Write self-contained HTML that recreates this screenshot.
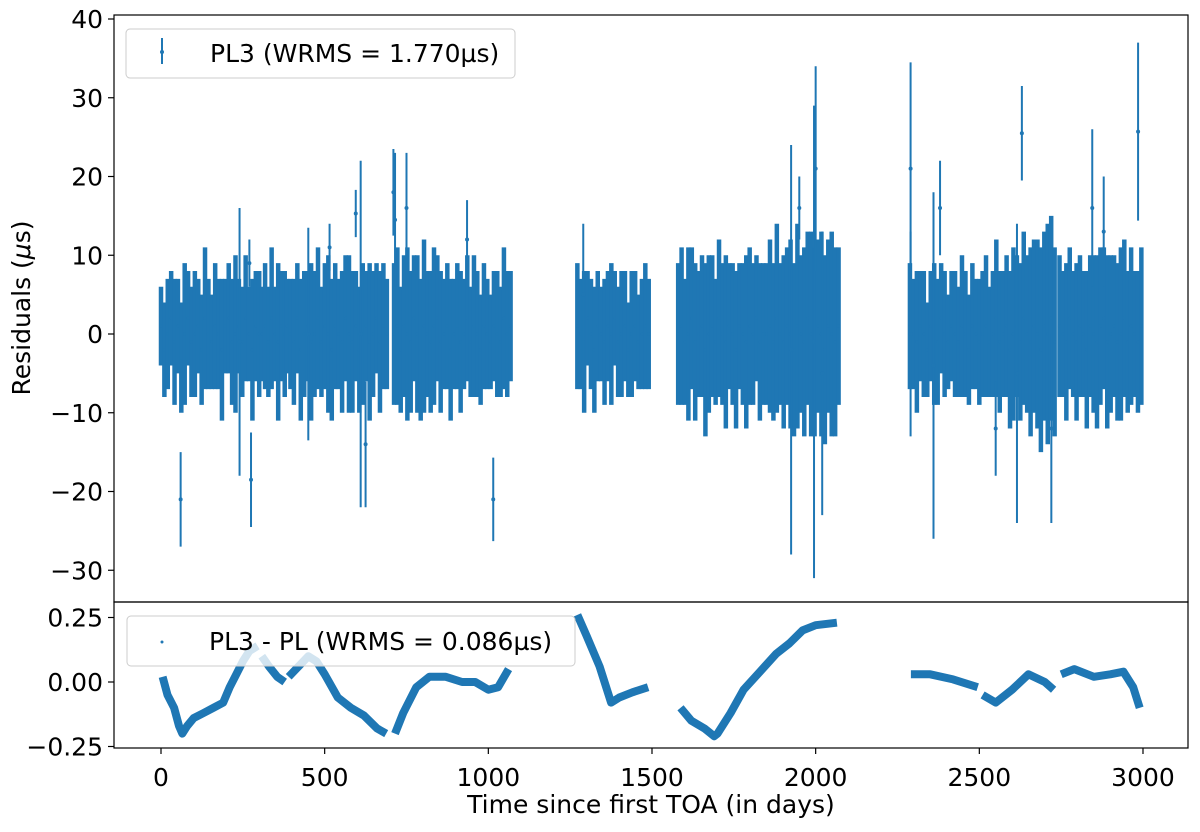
<!DOCTYPE html>
<html><head><meta charset="utf-8"><style>
html,body{margin:0;padding:0;background:#fff;}
svg{display:block;font-family:"DejaVu Sans","Liberation Sans",sans-serif;}
</style></head><body>
<svg id="chart" width="1200" height="832" viewBox="0 0 1200 832" xmlns="http://www.w3.org/2000/svg">
<rect width="1200" height="832" fill="#fff"/>
<g id="topPanel"></g>
<g id="botPanel"></g>
</svg>
<script>
// ---- data ----
const segStart = [0,308,385,712,1272,1580,1850,2288,2510,2745];
const segEnd   = [300,378,690,1068,1490,1840,2070,2500,2730,2995];
const segRes = [
[1,-2,0,2,-1,1,-3,0,2,-1,0,1,-2,2,0,-1,1,0,-2,1,2,-1,0,1,-1,2,0,-2,1,0],
[0,1,-1,2,0,-1,1,0],
[1,0,-1,2,-2,0,1,-1,0,2,-1,1,0,-2,1,0,-1,2,0,-1,1,-2,0,1,-1,0,2,-1,1,0],
[0,1,-2,1,0,-1,2,0,-2,1,0,-1,1,2,-1,0,1,-2,0,1,-1,0,2,-1,1,0,-2,1,0,-1,1,0,-1,2,0,1],
[1,0,-1,2,0,-2,1,0,-1,1,0,2,-1,0,1,-2,0,1,-1,0,1,0],
[0,1,-1,0,2,-1,0,1,-2,0,1,-1,2,0,-1,1,0,-2,1,0,-1,1,0,2,-1,0],
[0,1,-1,2,0,-1,1,0,-2,1,0,-1,2,0,-1,1,0,-2,1,0,-1,1],
[1,0,-1,1,0,-2,1,0,-1,2,0,-1,1,0,-1,1,0,-2,1,0,-1],
[0,1,-1,0,2,-1,0,1,-2,0,1,-1,2,0,-1,1,0,-2,1,0,2,-1],
[1,0,-1,2,0,-1,1,0,-2,1,0,-1,1,2,-1,0,1,-1,0,2,-1,1,0,-1,1]];
const segErr = [
[5,6,7,6,8,6,7,9,6,7,8,6,7,9,7,6,8,7,9,6,7,8,10,6,7,8,6,9,7,8],
[6,8,7,9,6,10,7,8],
[6,7,8,7,9,8,7,10,8,9,7,8,10,9,8,7,9,8,10,9,7,8,9,7,10,8,7,9,8,7],
[9,10,8,9,11,9,8,10,9,11,8,9,10,8,9,7,8,9,7,8,9,7,8,7,9,8,7,8,7,6,7,8,7,9,8,7],
[8,7,9,6,7,8,7,6,8,7,9,6,7,8,7,6,8,7,6,7,8,7],
[9,10,8,11,9,10,8,9,11,10,9,8,10,9,11,8,9,10,8,9,11,10,9,8,10,9],
[9,11,10,12,9,11,10,12,11,13,10,12,11,13,12,11,13,12,11,13,12,10],
[8,7,9,7,8,6,7,9,8,7,8,6,7,8,7,9,8,7,8,7,8],
[8,9,7,8,10,9,8,9,10,11,9,10,11,10,12,11,12,13,12,14,13,12],
[9,8,10,9,8,10,9,8,10,9,10,11,10,9,11,10,9,10,11,10,9,10,8,9,10]];
const outT = [60,240,275,270,450,515,595,610,625,710,715,750,1015,935,1925,1995,2000,2020,1950,2290,2290,2360,2380,2630,2615,2720,2845,2985,1290,2550,2880];
const outR = [-21,-1,-18.5,9,0,11,15.3,0,-14,18,14.5,16,-21,12,-2,-1,21,-5,16,21,0,-4,16,25.5,-5,-12,16,25.7,5,-12,13];
const outE = [6,17,6,3,13.5,3,3,22,8,5.5,8.5,7,5.3,5,26,30,13,18,4,13.5,13,22,6,6,19,12,10,11.3,9,6,7];
const diffT = [
[5,20,40,55,65,80,100,130,160,190,210,230,250,270,295],
[308,330,355,378],
[390,420,450,475,500,540,580,620,660,688],
[715,740,780,820,870,920,960,1000,1030,1062],
[1272,1300,1340,1375,1400,1440,1488],
[1587,1620,1660,1690,1700,1740,1780,1830,1880,1920,1960,2000,2065],
[2291,2350,2420,2495],
[2510,2550,2600,2650,2700,2727],
[2750,2790,2850,2900,2940,2970,2990]];
const diffV = [
[0.02,-0.05,-0.1,-0.17,-0.2,-0.17,-0.14,-0.12,-0.1,-0.08,-0.02,0.03,0.08,0.12,0.14],
[0.1,0.06,0.02,0.0],
[0.02,0.06,0.1,0.08,0.03,-0.06,-0.1,-0.13,-0.18,-0.2],
[-0.2,-0.12,-0.02,0.02,0.02,0.0,0.0,-0.03,-0.02,0.05],
[0.26,0.18,0.06,-0.08,-0.06,-0.04,-0.02],
[-0.1,-0.15,-0.18,-0.21,-0.2,-0.12,-0.03,0.04,0.11,0.15,0.2,0.22,0.23],
[0.03,0.03,0.01,-0.02],
[-0.05,-0.08,-0.03,0.03,0.0,-0.03],
[0.03,0.05,0.02,0.03,0.04,-0.02,-0.1]];
const xTicks = [0,500,1000,1500,2000,2500,3000];
const yTopTicks = [40,30,20,10,0,-10,-20,-30];
const yBotTicks = [0.25,0.00,-0.25];
const yBotLabels = ["0.25","0.00","\u22120.25"];

const NS='http://www.w3.org/2000/svg';
const X=d=>161+d*0.32733;
const YT=v=>334-v*7.875;
const YB=v=>682-v*258;
const C='#1f77b4';
const FS=25;
function mk(tag,attrs,parent){const e=document.createElementNS(NS,tag);for(const k in attrs)e.setAttribute(k,attrs[k]);parent.appendChild(e);return e;}
const gTop=document.getElementById('topPanel'), gBot=document.getElementById('botPanel');

const defs=mk('defs',{},document.getElementById('chart'));
const cp=mk('clipPath',{id:'ct'},defs);mk('rect',{x:114,y:15,width:1074,height:587},cp);
const cp2=mk('clipPath',{id:'cb'},defs);mk('rect',{x:114,y:602,width:1074,height:146},cp2);
const gT=mk('g',{'clip-path':'url(#ct)'},gTop);


function errbar(t,r,e,g){
  const l=mk('line',{x1:X(t),x2:X(t),y1:YT(r+e),y2:YT(r-e),stroke:C,'stroke-width':4.5},g);
  
  
  const c=mk('circle',{cx:X(t),cy:YT(r),r:1.6,fill:C},g);
  
  
}
segStart.forEach((s,i)=>{const n=segRes[i].length;for(let j=0;j<n;j++){const t=s+(segEnd[i]-s)*j/(n-1);errbar(t,segRes[i][j],segErr[i][j],gT);}});
outT.forEach((t,i)=>{
  const l=mk('line',{x1:X(t),x2:X(t),y1:YT(outR[i]+outE[i]),y2:YT(outR[i]-outE[i]),stroke:C,'stroke-width':2},gT);
  
  
  const c=mk('circle',{cx:X(t),cy:YT(outR[i]),r:2,fill:C},gT);
  
  
});
const f1=mk('rect',{x:114,y:15,width:1074,height:587,fill:'none',stroke:'#000','stroke-width':1.2},gTop);


yTopTicks.forEach(v=>{
  mk('line',{x1:108,x2:114,y1:YT(v),y2:YT(v),stroke:'#000','stroke-width':1.2},gTop);
  const tx=mk('text',{x:103,y:YT(v)+9,'text-anchor':'end','font-size':FS,fill:'#000'},gTop);
  tx.textContent=v<0?'\u2212'+(-v):String(v);
  
  
});
const yl=mk('text',{x:0,y:0,transform:'translate(30,308) rotate(-90)','text-anchor':'middle','font-size':FS,fill:'#000'},gTop);
yl.innerHTML='Residuals (<tspan font-style="italic">\u03bc</tspan>s)';


const lg=mk('g',{},gTop);


mk('rect',{x:126,y:29,width:389,height:49,rx:4,fill:'#fff','fill-opacity':0.8,stroke:'#ccc'},lg);
mk('line',{x1:162,x2:162,y1:38,y2:64,stroke:C,'stroke-width':2},lg);
mk('circle',{cx:162,cy:52,r:2,fill:C},lg);
const lt=mk('text',{x:210,y:62,'font-size':FS,fill:'#000'},lg);
lt.textContent='PL3 (WRMS = 1.770\u00b5s)';



const gB=mk('g',{'clip-path':'url(#cb)'},gBot);


diffT.forEach((ts,i)=>{
  const pts=ts.map((t,j)=>X(t).toFixed(1)+','+YB(diffV[i][j]).toFixed(1)).join(' ');
  const p=mk('polyline',{points:pts,fill:'none',stroke:C,'stroke-width':8,'stroke-linejoin':'round'},gB);
  
  
});
const f2=mk('rect',{x:114,y:602,width:1074,height:146,fill:'none',stroke:'#000','stroke-width':1.2},gBot);


yBotTicks.forEach((v,i)=>{
  mk('line',{x1:108,x2:114,y1:YB(v),y2:YB(v),stroke:'#000','stroke-width':1.2},gBot);
  const tx=mk('text',{x:103,y:YB(v)+9,'text-anchor':'end','font-size':FS,fill:'#000'},gBot);
  tx.textContent=yBotLabels[i];
  
  
});
xTicks.forEach(v=>{
  mk('line',{x1:X(v),x2:X(v),y1:748,y2:754,stroke:'#000','stroke-width':1.2},gBot);
  const tx=mk('text',{x:X(v),y:786,'text-anchor':'middle','font-size':FS,fill:'#000'},gBot);
  tx.textContent=String(v);
  
  
});
const xl=mk('text',{x:651,y:813,'text-anchor':'middle','font-size':FS,fill:'#000'},gBot);
xl.textContent='Time since first TOA (in days)';


const lg2=mk('g',{},gBot);


mk('rect',{x:127,y:616,width:448,height:50,rx:4,fill:'#fff','fill-opacity':0.8,stroke:'#ccc'},lg2);
mk('circle',{cx:162,cy:642,r:1.5,fill:C},lg2);
const lt2=mk('text',{x:209,y:650,'font-size':FS,fill:'#000'},lg2);
lt2.textContent='PL3 - PL (WRMS = 0.086\u00b5s)';


</script>
</body></html>
